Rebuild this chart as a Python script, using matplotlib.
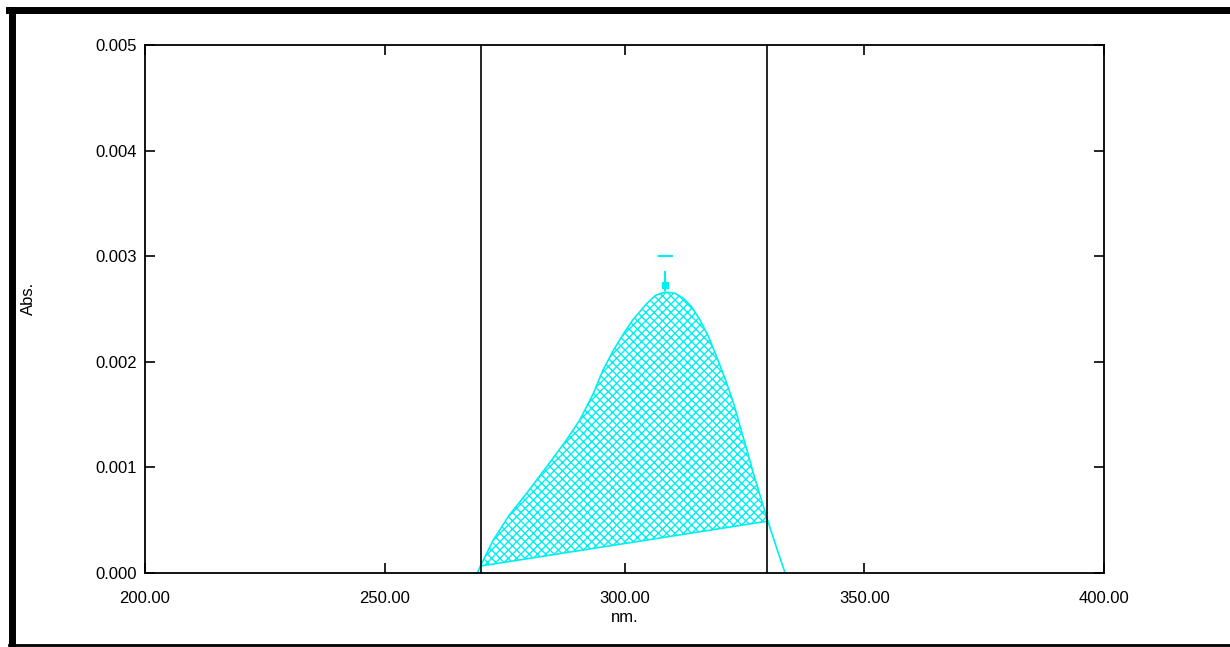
import matplotlib.pyplot as plt
from matplotlib.lines import Line2D
import numpy as np

# spectrum
wavelength = [269.3, 270.0, 272.6, 276.0, 279.6, 284.0, 287.9, 290.7, 293.5, 295.5,
              297.7, 300.0, 301.8, 304.6, 306.5, 308.4, 310.5, 312.3, 314.0, 315.7,
              317.5, 319.2, 321.3, 322.8, 324.1, 325.5, 326.9, 328.3, 329.7, 330.7,
              332.0, 333.5]
absorbance = [0.0, 0.00007, 0.00031, 0.00055, 0.000755, 0.00102, 0.00126, 0.00145,
              0.0017, 0.00192, 0.00211, 0.00228, 0.0024, 0.00255, 0.00263, 0.00266,
              0.00265, 0.0026, 0.00252, 0.0024, 0.00224, 0.00205, 0.0018, 0.0016,
              0.00139, 0.00117, 0.00094, 0.00073, 0.00052, 0.00038, 0.0002, 0.0]

range_start, range_end = 270.0, 329.7
base_start, base_end = 0.000066, 0.00049
peak_x, peak_y = 308.4, 0.00266

xticks = [200, 250, 300, 350, 400]
yticks = [0.000, 0.001, 0.002, 0.003, 0.004, 0.005]

plt.rcParams['font.family'] = ['Liberation Sans', 'DejaVu Sans']
plt.rcParams['font.size'] = 12

fig = plt.figure(figsize=(12.3, 6.47), dpi=100)
ax = fig.add_axes([145 / 1230, 1 - 573 / 647, 959 / 1230, 528 / 647])

cyan = '#00f0f0'
ax.plot(wavelength, absorbance, color=cyan, lw=1.2)

# baseline + hatched peak area
wl = np.array(wavelength)
ab = np.array(absorbance)
mask = (wl >= range_start) & (wl <= range_end)
xs = np.concatenate([[range_start], wl[mask], [range_end]])
ys = np.concatenate([[base_start], ab[mask], [base_end]])
base = np.interp(xs, [range_start, range_end], [base_start, base_end])
plt.rcParams['hatch.color'] = cyan
plt.rcParams['hatch.linewidth'] = 1.0
ax.fill_between(xs, base, ys, facecolor='none', edgecolor=cyan, hatch='xxxx', lw=0)
ax.plot([range_start, range_end], [base_start, base_end], color=cyan, lw=1.2)

# range markers
ax.axvline(range_start, color='black', lw=1.2)
ax.axvline(range_end, color='black', lw=1.2)

# peak pick marker
ax.plot([peak_x, peak_x], [peak_y + 0.00002, 0.00285], color=cyan, lw=1.5)
ax.plot([peak_x], [0.00273], marker='s', ms=4, color=cyan)
ax.plot([307.2, 309.9], [0.003, 0.003], color=cyan, lw=1.5)

ax.set_xlim(200, 400)
ax.set_ylim(0, 0.005)
ax.set_xticks(xticks)
ax.set_xticklabels([f'{v:.2f}' for v in xticks])
ax.set_yticks(yticks)
ax.set_yticklabels([f'{v:.3f}' for v in yticks])
ax.tick_params(direction='in', length=7, width=1.2, top=True, right=True)
ax.tick_params(axis='x', pad=13)
ax.tick_params(axis='y', pad=6)
for s in ax.spines.values():
    s.set_linewidth(1.3)
ax.set_xlabel('nm.', labelpad=3)
ax.set_ylabel('Abs.')
ax.yaxis.set_label_coords(-0.114, 0.52)

# window frame
fig.add_artist(Line2D([9 / 1230, 1], [1 - 10 / 647] * 2, color='black', lw=5))
fig.add_artist(Line2D([12 / 1230] * 2, [0, 1 - 10 / 647], color='black', lw=5))
fig.add_artist(Line2D([9 / 1230, 1], [1 - 645 / 647] * 2, color='black', lw=2))

fig.savefig('out.png', dpi=100)
